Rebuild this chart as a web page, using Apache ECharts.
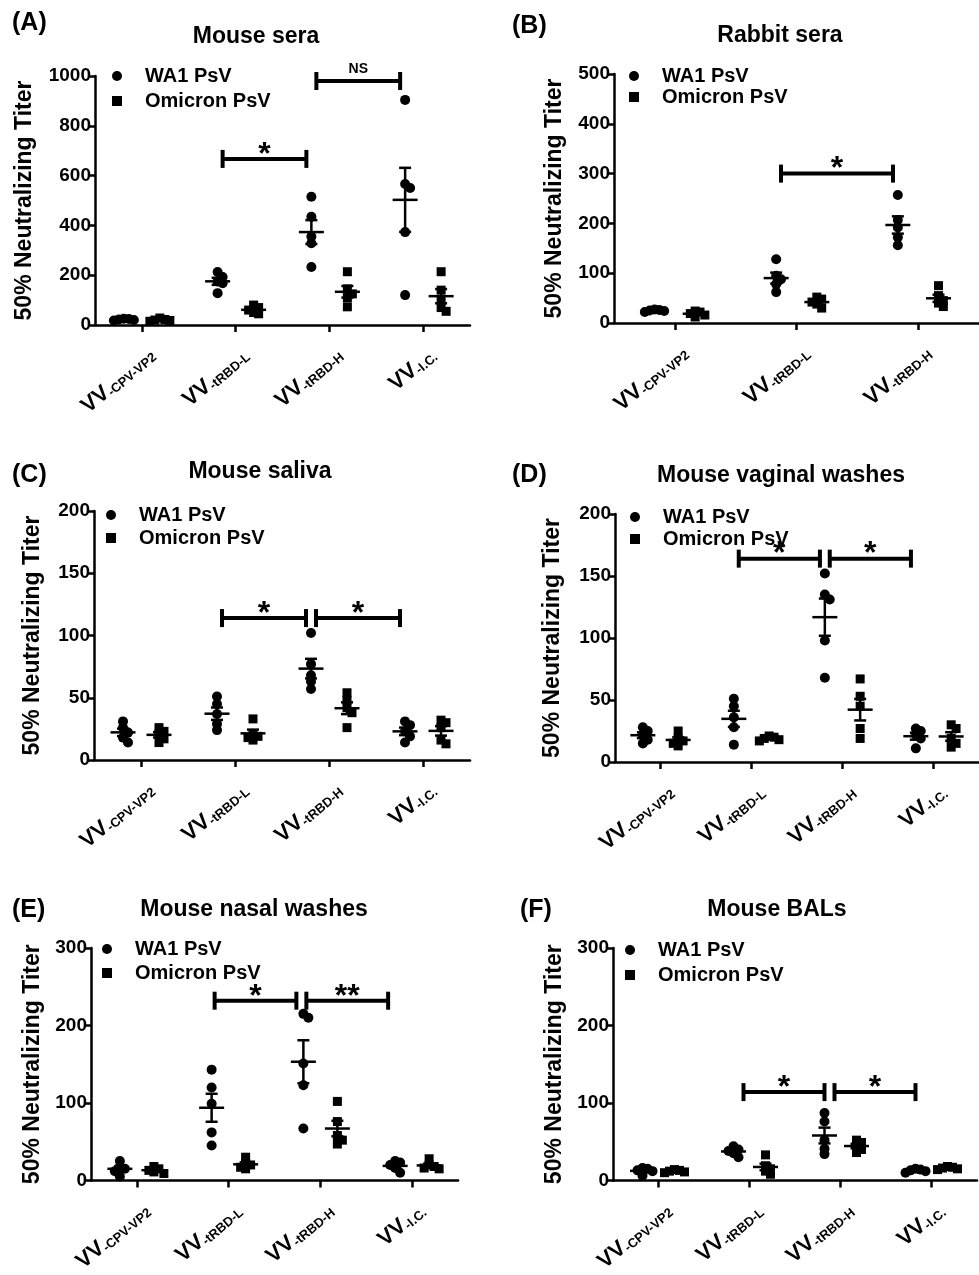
<!DOCTYPE html>
<html><head><meta charset="utf-8">
<script src="https://cdn.jsdelivr.net/npm/echarts@6/dist/echarts.min.js"></script>
<style>html,body{margin:0;padding:0;background:#fff}#c{width:979px;height:1275px}</style>
</head><body><div id="c"></div>
<script>
// ---------------- data ----------------
const groups4 = ['VV-CPV-VP2', 'VV-tRBD-L', 'VV-tRBD-H', 'VV-I.C.'];
const groups3 = ['VV-CPV-VP2', 'VV-tRBD-L', 'VV-tRBD-H'];
const seriesNames = ['WA1 PsV', 'Omicron PsV'];
const yAxisTitle = '50% Neutralizing Titer';

const ticksA = [0, 200, 400, 600, 800, 1000];
const ticksB = [0, 100, 200, 300, 400, 500];
const ticksC = [0, 50, 100, 150, 200];
const ticksD = [0, 50, 100, 150, 200];
const ticksE = [0, 100, 200, 300];
const ticksF = [0, 100, 200, 300];

const wa1A = [[20,25,22,18,24],[213,193,175,168,128],[515,435,355,328,233],[904,566,550,373,120]];
const omiA = [[28,22,20,18,15],[80,70,60,50,45],[214,145,125,110,73],[214,140,100,70,55]];
const wa1B = [[27,26,25,24,22],[128,95,88,78,62],[257,207,192,172,156]];
const omiB = [[24,22,19,16,12],[52,48,42,38,30],[75,55,45,40,33]];
const wa1C = [[31,26,22,18,14],[51,45,37,29,24],[102,77,68,63,57],[31,28,23,19,14]];
const omiC = [[26,23,21,17,14],[33,21,19,18,16],[54,48,42,38,26],[32,30,26,16,13]];
const wa1D = [[28,25,22,18,15],[51,45,36,28,14],[152,135,131,98,68],[27,25,22,19,11]];
const omiD = [[25,19,17,15,13],[21,20,19,18,17],[67,53,45,27,19],[30,27,19,15,12]];
const wa1E = [[25,18,15,12,5],[143,120,99,62,45],[215,210,151,123,67],[25,23,20,16,10]];
const omiE = [[18,15,13,11,9],[30,22,20,17,15],[102,76,58,52,47],[28,20,18,16,15]];
const wa1F = [[16,15,13,12,6],[44,40,38,35,30],[87,76,52,41,34],[15,14,13,12,10]];
const omiF = [[14,13,12,11,10],[33,19,15,12,8],[52,49,45,40,36],[18,17,16,15,14]];

// significance comparisons: [fromGroup, toGroup, height]
const sigA = [[1,2,667],[2,3,980]]; const sigTextA = ['*','NS'];
const sigB = [[1,2,300]];           const sigTextB = ['*'];
const sigC = [[1,2,114],[2,3,114]]; const sigTextC = ['*','*'];
const sigD = [[1,2,164],[2,3,164]]; const sigTextD = ['*','*'];
const sigE = [[1,2,232],[2,3,232]]; const sigTextE = ['*','**'];
const sigF = [[1,2,114],[2,3,114]]; const sigTextF = ['*','*'];

const panels = [
  {label:'(A)', title:'Mouse sera',           cats:groups4, ticks:ticksA, wa1:wa1A, omi:omiA, sig:sigA, sigText:sigTextA},
  {label:'(B)', title:'Rabbit sera',          cats:groups3, ticks:ticksB, wa1:wa1B, omi:omiB, sig:sigB, sigText:sigTextB},
  {label:'(C)', title:'Mouse saliva',         cats:groups4, ticks:ticksC, wa1:wa1C, omi:omiC, sig:sigC, sigText:sigTextC},
  {label:'(D)', title:'Mouse vaginal washes', cats:groups4, ticks:ticksD, wa1:wa1D, omi:omiD, sig:sigD, sigText:sigTextD},
  {label:'(E)', title:'Mouse nasal washes',   cats:groups4, ticks:ticksE, wa1:wa1E, omi:omiE, sig:sigE, sigText:sigTextE},
  {label:'(F)', title:'Mouse BALs',           cats:groups4, ticks:ticksF, wa1:wa1F, omi:omiF, sig:sigF, sigText:sigTextF}
];

// ---------------- layout ----------------
const layout = [
  {grid:{left:95,  top:76,  width:375, height:249}, off:18, sigShift:0,  lbl:[12,24],  ttl:[256,36.5], leg:[117,76,25],  nameGap:59},
  {grid:{left:614, top:74,  width:377, height:249}, off:21, sigShift:0,  lbl:[512,27], ttl:[780,36],   leg:[634,76,21],  nameGap:48},
  {grid:{left:94,  top:511, width:376, height:249}, off:18, sigShift:0,  lbl:[12,476], ttl:[260,472],  leg:[111,515,23], nameGap:50},
  {grid:{left:615, top:514, width:371, height:248}, off:18, sigShift:0,  lbl:[512,476],ttl:[781,476],  leg:[635,517,22], nameGap:51},
  {grid:{left:91,  top:948, width:367, height:242}, off:17, sigShift:-2, lbl:[12,911], ttl:[254,910],  leg:[107,949,24], nameGap:47},
  {grid:{left:613, top:948, width:364, height:242}, off:16, sigShift:5,  lbl:[520,911],ttl:[777,910],  leg:[630,950,25], nameGap:47}
];

const FF = '"Liberation Sans", Arial, Helvetica, sans-serif';
const BLACK = '#000';

function swarm(vals, pxPerUnit) {
  const order = vals.map((v, i) => i).sort((a, b) => vals[b] - vals[a]);
  const placed = [], offs = new Array(vals.length).fill(0);
  const s = 5, d = 5;
  for (const i of order) {
    const y = vals[i] * pxPerUnit;
    for (let k = 0; k < 30; k++) {
      const dx = k === 0 ? 0 : (k % 2 ? 1 : -1) * Math.ceil(k / 2) * s;
      if (placed.every(p => Math.hypot(p.x - dx, p.y - y) >= d - 0.01)) { placed.push({x: dx, y}); offs[i] = dx; break; }
    }
  }
  return offs;
}
function meanSem(v) {
  const m = v.reduce((a, b) => a + b, 0) / v.length;
  const sd = Math.sqrt(v.reduce((a, b) => a + (b - m) * (b - m), 0) / (v.length - 1));
  return [m, sd / Math.sqrt(v.length)];
}

const option = {
  animation: false,
  backgroundColor: '#fff',
  textStyle: {fontFamily: FF},
  title: [], grid: [], xAxis: [], yAxis: [], legend: [], series: []
};

panels.forEach((P, p) => {
  const L = layout[p];
  const n = P.cats.length;
  const catPx = L.grid.width / n;
  const ymax = P.ticks[P.ticks.length - 1];
  const pxPerUnit = L.grid.height / (ymax - P.ticks[0]);

  option.title.push({text: P.label, left: L.lbl[0], top: L.lbl[1] - 13, padding: 0,
    textStyle: {fontSize: 25, fontWeight: 'bold', color: BLACK, fontFamily: FF}});
  option.title.push({text: P.title, left: L.ttl[0], top: L.ttl[1] - 11.5, padding: 0, textAlign: 'center',
    textStyle: {fontSize: 23, fontWeight: 'bold', color: BLACK, fontFamily: FF}});

  option.grid.push({left: L.grid.left, top: L.grid.top, width: L.grid.width, height: L.grid.height, containLabel: false});

  option.xAxis.push({
    type: 'category', gridIndex: p, data: P.cats, boundaryGap: true,
    axisLine: {show: true, onZero: false, lineStyle: {color: BLACK, width: 2.5}},
    axisTick: {show: true, alignWithLabel: true, length: 7, lineStyle: {color: BLACK, width: 2.5}},
    axisLabel: {
      interval: 0, rotate: 40, margin: 15, verticalAlign: 'top', padding: [5, 0, 0, 0],
      formatter: v => '{a|VV}{b|' + v.slice(2) + '}',
      rich: {
        a: {fontSize: 22, fontWeight: 'bold', color: BLACK, fontFamily: FF},
        b: {fontSize: 13, fontWeight: 'bold', color: BLACK, fontFamily: FF, verticalAlign: 'bottom'}
      }
    },
    splitLine: {show: false}
  });
  option.xAxis.push({type: 'value', gridIndex: p, min: 0, max: n, show: false});

  option.yAxis.push({
    type: 'value', gridIndex: p, min: P.ticks[0], max: ymax, interval: P.ticks[1] - P.ticks[0],
    name: yAxisTitle, nameLocation: 'middle', nameGap: L.nameGap,
    nameTextStyle: {fontSize: 23, fontWeight: 'bold', color: BLACK, fontFamily: FF},
    axisLine: {show: true, onZero: false, lineStyle: {color: BLACK, width: 2.5}},
    axisTick: {show: true, length: 6, lineStyle: {color: BLACK, width: 2.5}},
    axisLabel: {fontSize: 19, fontWeight: 'bold', color: BLACK, margin: 4, fontFamily: FF,
      formatter: v => String(v)},
    splitLine: {show: false}
  });

  option.legend.push({
    orient: 'vertical', left: L.leg[0] - 5, top: L.leg[1] - 10, padding: 0,
    itemWidth: 10, itemHeight: 10, itemGap: L.leg[2] - 20, selectedMode: false,
    textStyle: {fontSize: 20, fontWeight: 'bold', color: BLACK, fontFamily: FF, padding: [0, 0, 0, 18]},
    data: [{name: seriesNames[0], icon: 'circle'}, {name: seriesNames[1], icon: 'rect'}]
  });

  const groupX = (i, s) => i + 0.5 + (s === 0 ? -1 : 1) * L.off / catPx;
  const errData = [];
  [P.wa1, P.omi].forEach((sets, s) => {
    const pts = [];
    sets.forEach((vals, i) => {
      const offs = swarm(vals, pxPerUnit);
      vals.forEach((v, k) => pts.push([groupX(i, s) + offs[k] / catPx, v]));
      const ms = meanSem(vals);
      errData.push([groupX(i, s), ms[0], ms[1]]);
    });
    option.series.push({
      type: 'scatter', name: seriesNames[s], xAxisIndex: 2 * p + 1, yAxisIndex: p,
      symbol: s === 0 ? 'circle' : 'rect', symbolSize: s === 0 ? 10 : 9,
      itemStyle: {color: BLACK, opacity: 1}, data: pts, z: 2, silent: true
    });
  });

  option.series.push({
    type: 'custom', name: 'mean ± SEM', xAxisIndex: 2 * p + 1, yAxisIndex: p, z: 3, silent: true,
    data: errData,
    renderItem: (params, api) => {
      const x = api.value(0), m = api.value(1), e = api.value(2);
      const c = api.coord([x, m]), hi = api.coord([x, m + e]), lo = api.coord([x, m - e]);
      const st = {stroke: BLACK, lineWidth: 2.5};
      return {type: 'group', children: [
        {type: 'line', shape: {x1: c[0] - 12.5, y1: c[1], x2: c[0] + 12.5, y2: c[1]}, style: st},
        {type: 'line', shape: {x1: c[0], y1: hi[1], x2: c[0], y2: lo[1]}, style: st},
        {type: 'line', shape: {x1: c[0] - 6, y1: hi[1], x2: c[0] + 6, y2: hi[1]}, style: st},
        {type: 'line', shape: {x1: c[0] - 6, y1: lo[1], x2: c[0] + 6, y2: lo[1]}, style: st}
      ]};
    }
  });

  const sigData = P.sig.map(b => [
    groupX(b[0], 0) + (5 + L.sigShift) / catPx,
    groupX(b[1], 0) + (-5 + L.sigShift) / catPx,
    b[2]
  ]);
  const sigText = P.sigText;
  option.series.push({
    type: 'custom', name: 'significance', xAxisIndex: 2 * p + 1, yAxisIndex: p, z: 4, silent: true,
    data: sigData,
    renderItem: (params, api) => {
      const a = api.coord([api.value(0), api.value(2)]);
      const b = api.coord([api.value(1), api.value(2)]);
      const st = {stroke: BLACK, lineWidth: 4};
      const t = sigText[params.dataIndex];
      const isStar = t.indexOf('*') >= 0;
      return {type: 'group', children: [
        {type: 'line', shape: {x1: a[0], y1: a[1], x2: b[0], y2: b[1]}, style: st},
        {type: 'line', shape: {x1: a[0], y1: a[1] - 9, x2: a[0], y2: a[1] + 9}, style: st},
        {type: 'line', shape: {x1: b[0], y1: b[1] - 9, x2: b[0], y2: b[1] + 9}, style: st},
        {type: 'text', x: (a[0] + b[0]) / 2, y: a[1] - (isStar ? 4 : 12),
          style: {text: t, align: 'center', verticalAlign: 'middle', fill: BLACK,
            font: 'bold ' + (isStar ? 32 : 14) + 'px ' + FF}}
      ]};
    }
  });
});

const chart = echarts.init(document.getElementById('c'), null, {renderer: 'canvas'});
chart.setOption(option);
</script>
</body></html>
